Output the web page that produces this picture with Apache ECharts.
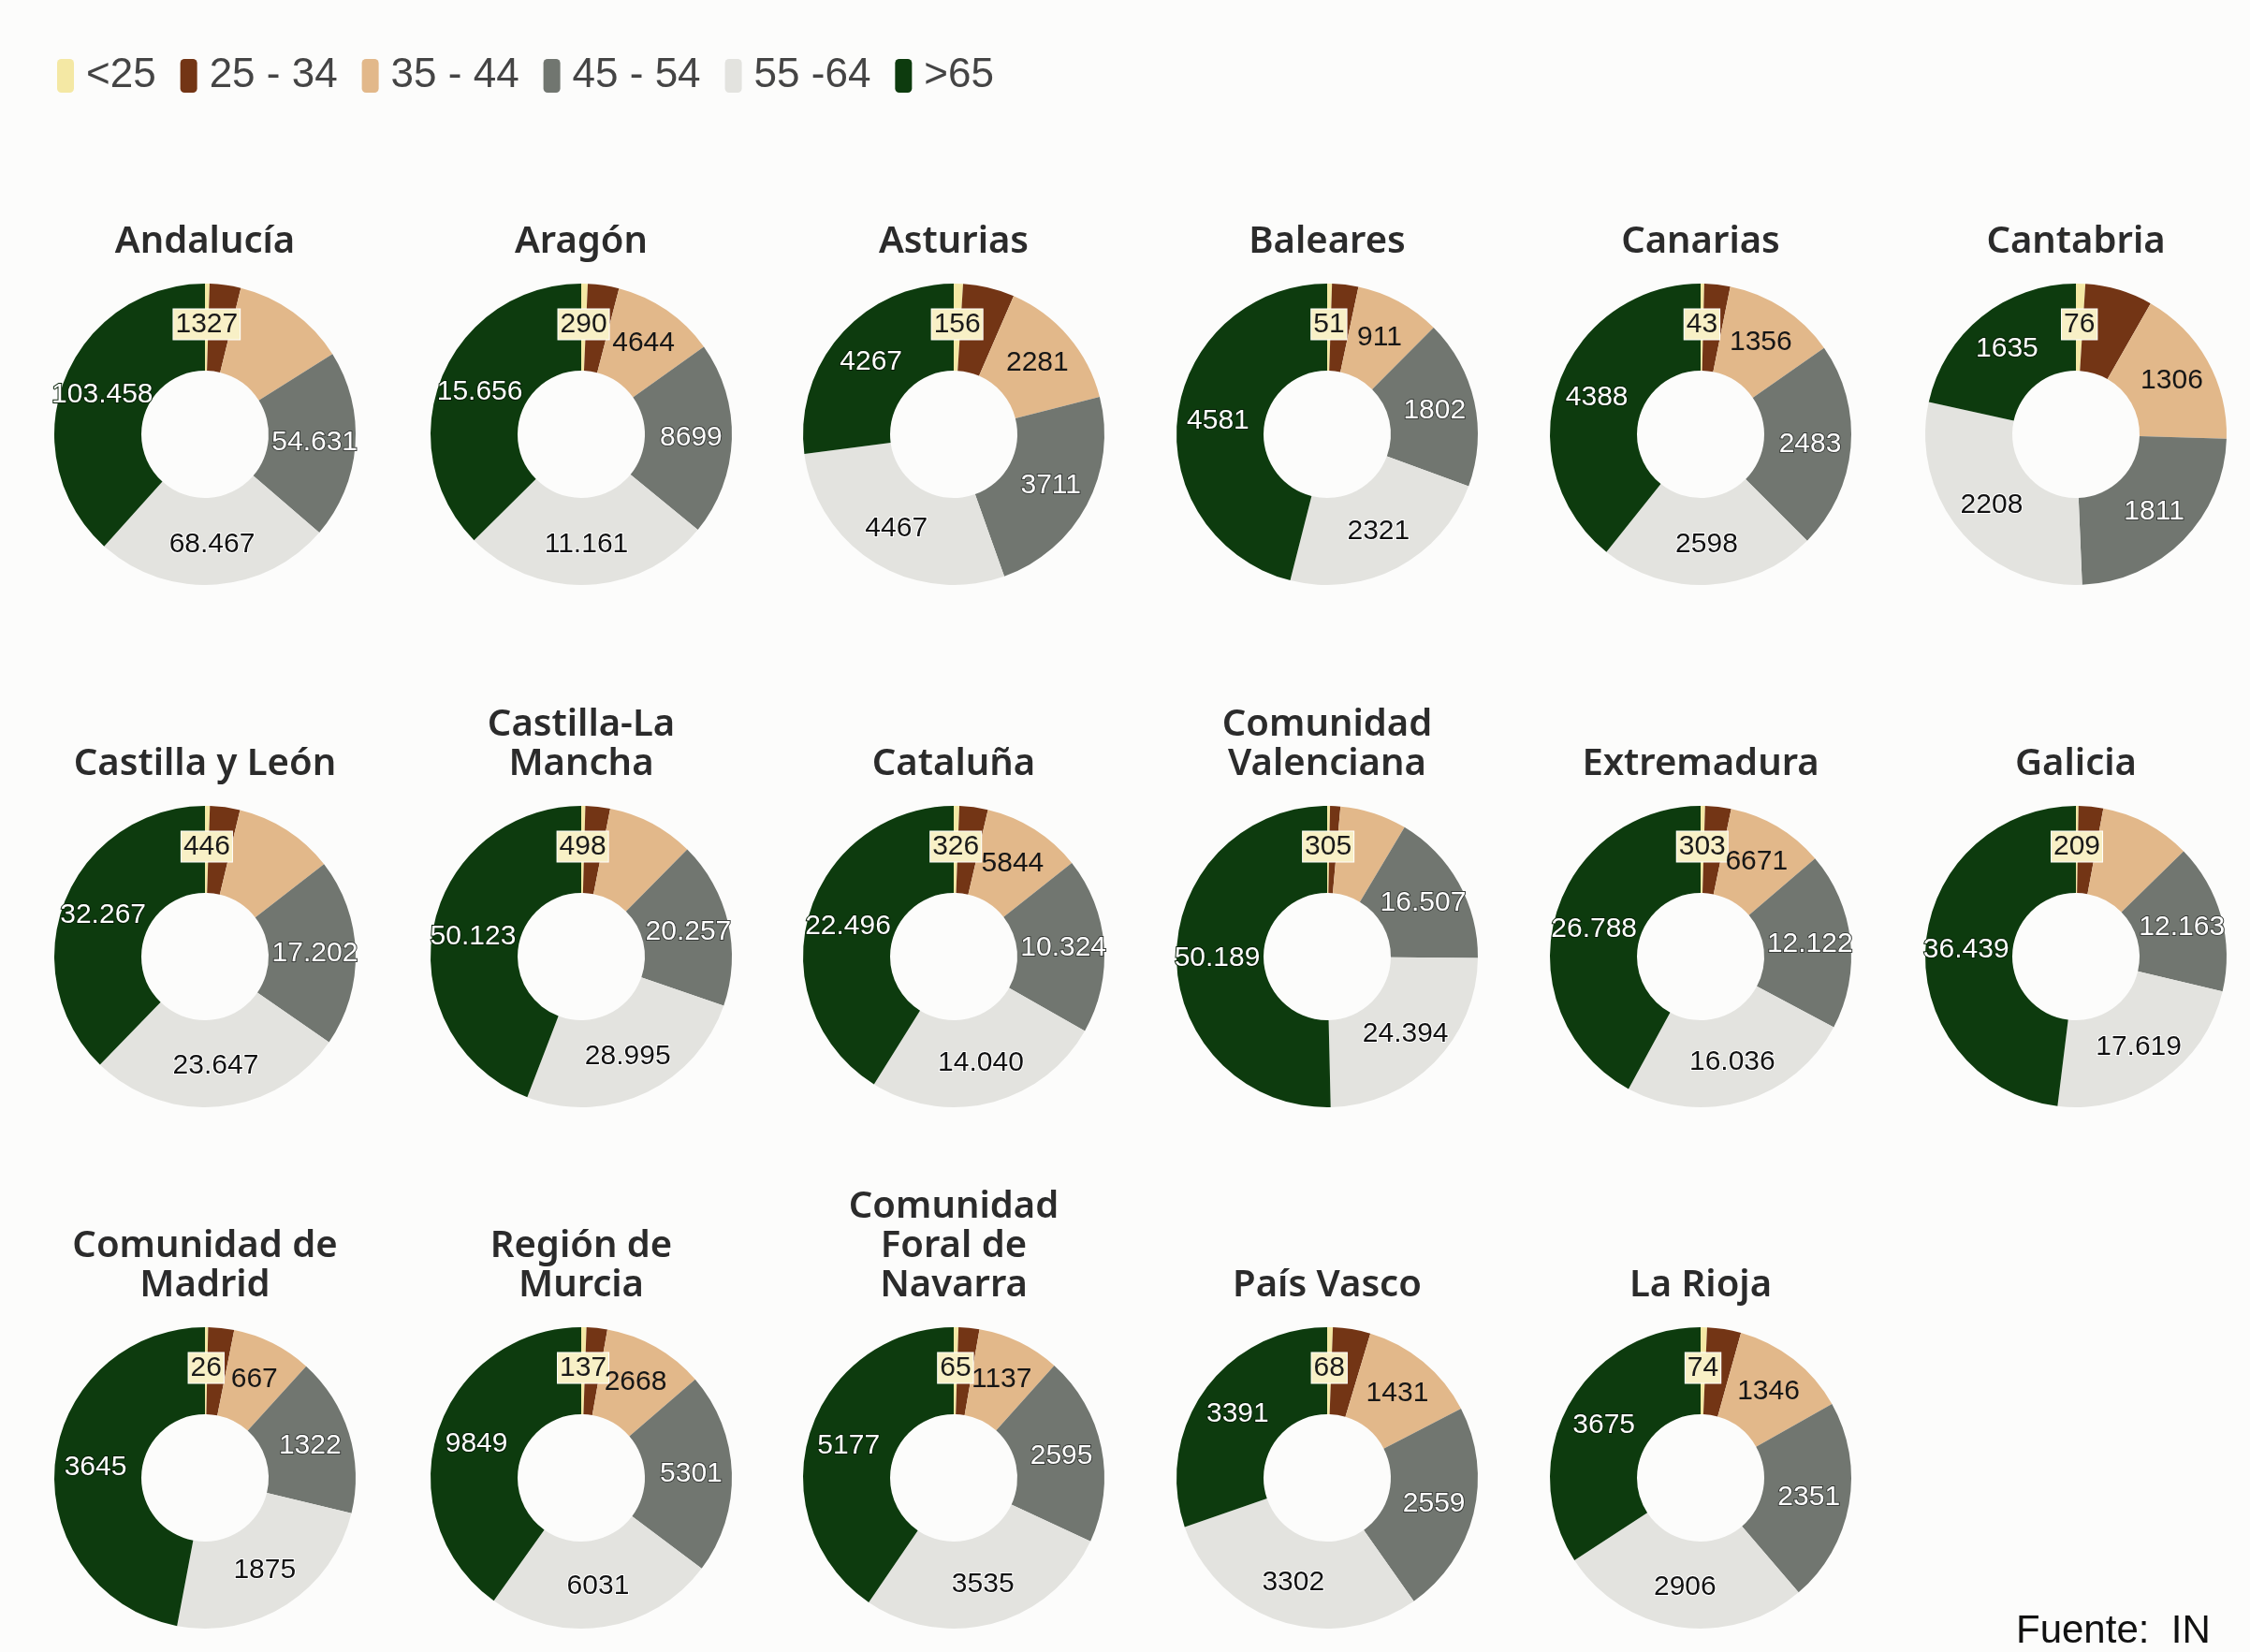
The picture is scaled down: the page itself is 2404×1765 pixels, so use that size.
<!DOCTYPE html>
<html><head><meta charset="utf-8">
<script src="https://cdn.jsdelivr.net/npm/echarts@6/dist/echarts.min.js"></script>
<style>html,body{margin:0;padding:0;background:#fcfcfb}#c{width:2404px;height:1765px}</style>
</head><body><div id="c"></div><script>
// ---- data ----
const regions = ['Andalucía','Aragón','Asturias','Baleares','Canarias','Cantabria',
  'Castilla y León','Castilla-La\nMancha','Cataluña','Comunidad\nValenciana','Extremadura','Galicia',
  'Comunidad de\nMadrid','Región de\nMurcia','Comunidad\nForal de\nNavarra','País Vasco','La Rioja'];
const ageGroups = ['<25','25 - 34','35 - 44','45 - 54','55 -64','>65'];
const under25  = [1327,290,156,51,43,76,446,498,326,305,303,209,26,137,65,68,74];
// 25-34 has no label in the reference: values estimated from arc size
const age25_34 = [9000,1400,870,280,310,550,2750,3000,1670,1100,1770,2000,215,545,285,450,390];
const age35_44 = [33000,4644,2281,911,1356,1306,9200,10600,5844,7150,6671,7400,667,2668,1137,1431,1346];
const age35_44Labeled = [false,true,true,true,true,true,false,false,true,false,true,false,true,true,true,true,true];
const age45_54 = [54631,8699,3711,1802,2483,1811,17202,20257,10324,16507,12122,12163,1322,5301,2595,2559,2351];
const age55_64 = [68467,11161,4467,2321,2598,2208,23647,28995,14040,24394,16036,17619,1875,6031,3535,3302,2906];
const over65   = [103458,15656,4267,4581,4388,1635,32267,50123,22496,50189,26788,36439,3645,9849,5177,3391,3675];
const sourceText = 'Fuente:  IN';

// ---- style ----
const colors = ['#f4e8a4','#733515','#e2b88a','#717670','#e3e3df','#0d3b0e'];
const colX = [219, 621, 1019, 1418, 1817, 2218];
const rowY = [464, 1022, 1579];
const fmt = v => v >= 10000 ? String(v).replace(/\B(?=(\d{3})+(?!\d))/g, '.') : String(v);

const labelStyles = [
  {show:true, color:'#1a1a1a', backgroundColor:'#f8f0c6', padding:[1,2], borderColor:'#ffffff', borderWidth:1},
  {show:false},
  {show:true, color:'#161616'},
  {show:true, color:'#ffffff', textBorderColor:'#3a3d3a', textBorderWidth:2},
  {show:true, color:'#111111', textBorderColor:'#ffffff', textBorderWidth:2},
  {show:true, color:'#ffffff', textBorderColor:'#061f06', textBorderWidth:2}
];

const titles = [], series = [];
regions.forEach((name, i) => {
  const cx = colX[i % 6], cy = rowY[Math.floor(i / 6)];
  const n = name.split('\n').length;
  titles.push({
    text: name, left: cx, textAlign: 'center', padding: 0,
    top: cy - 204 - (n - 1) * 42 - 22,
    textStyle: {fontSize: 40, fontWeight: 600, lineHeight: 42, color: '#2b2b2b', fontFamily: 'Noto Sans'}
  });
  const vals = [under25[i], age25_34[i], age35_44[i], age45_54[i], age55_64[i], over65[i]];
  series.push({
    type: 'pie', name: name.replace(/\n/g, ' '),
    center: [cx, cy], radius: [68, 161], startAngle: 90, clockwise: true,
    avoidLabelOverlap: false, silent: true, minShowLabelAngle: 0,
    labelLayout: {hideOverlap: false},
    itemStyle: {borderWidth: 0},
    label: {position: 'inside', fontSize: 30, fontFamily: 'Liberation Sans',
            formatter: p => fmt(p.value)},
    labelLine: {show: false},
    data: vals.map((v, k) => {
      let lab = labelStyles[k];
      if (k === 2 && !age35_44Labeled[i]) lab = {show:false};
      return {name: ageGroups[k], value: v, itemStyle: {color: colors[k]}, label: lab};
    })
  });
});

const chart = echarts.init(document.getElementById('c'), null, {renderer: 'canvas'});
chart.setOption({
  backgroundColor: '#fcfcfb',
  animation: false,
  color: colors,
  title: titles,
  legend: {
    data: ageGroups, left: 56, top: 54, icon: 'roundRect',
    itemWidth: 18, itemHeight: 36, itemGap: 26,
    textStyle: {fontSize: 44, fontFamily: "'Liberation Sans Narrow','Liberation Sans'", color: '#444444', padding: [0,0,0,8]}
  },
  graphic: [{
    type: 'text', left: 2154, top: 1722,
    style: {text: sourceText, font: '42px "Liberation Sans"', fill: '#111'}
  }],
  series: series
});
</script></body></html>
